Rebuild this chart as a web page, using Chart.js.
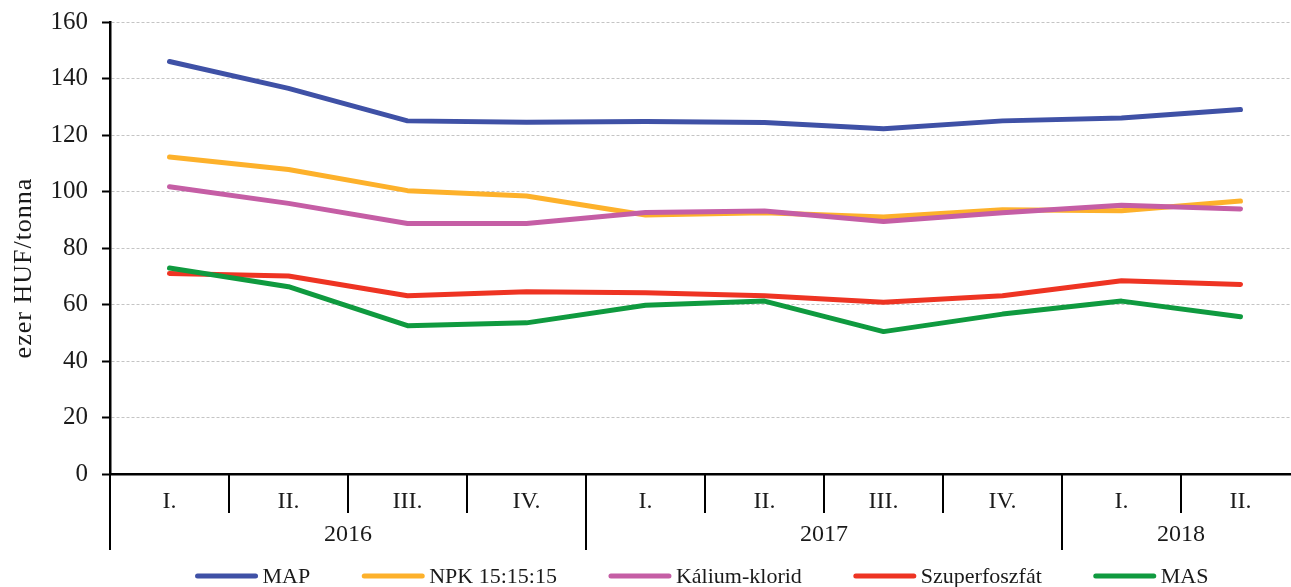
<!DOCTYPE html>
<html>
<head>
<meta charset="utf-8">
<script src="https://cdn.jsdelivr.net/npm/chart.js@4.4.0/dist/chart.umd.min.js"></script>
<style>
  html, body { margin: 0; padding: 0; background: #fff; overflow: hidden; }
  #wrap { width: 1312px; height: 587px; }
</style>
</head>
<body>
<div id="wrap"><canvas id="myChart"></canvas></div>
<script>
// quarters and the years they belong to
const quarters = ['I.', 'II.', 'III.', 'IV.', 'I.', 'II.', 'III.', 'IV.', 'I.', 'II.'];
const years = ['2016', '2017', '2018'];
const quartersPerYear = [4, 4, 2];
const y_title = 'ezer HUF/tonna';

// prices, ezer HUF/tonna
const map_values = [146, 136.5, 125, 124.5, 124.8, 124.4, 122.2, 125, 126, 129];
const npk_values = [112.2, 107.8, 100.3, 98.4, 91.7, 92.5, 91, 93.5, 93.2, 96.6];
const kcl_values = [101.7, 95.8, 88.7, 88.7, 92.6, 93.1, 89.4, 92.5, 95.1, 93.8];
const szuper_values = [71, 70.1, 63.1, 64.5, 64.2, 63.1, 60.8, 63.1, 68.4, 67.1];
const mas_values = [72.9, 66.3, 52.5, 53.5, 59.7, 61.2, 50.4, 56.6, 61.2, 55.7];

const series_names = ['MAP', 'NPK 15:15:15', 'Kálium-klorid', 'Szuperfoszfát', 'MAS'];
const series_values = [map_values, npk_values, kcl_values, szuper_values, mas_values];
const series_colors = ['#3f51a6', '#fdb12b', '#c55ea5', '#ee3423', '#0f9a3f'];

const FONT = 'Liberation Serif';
const TEXT = '#1a1a1a';

const datasets = [];
for (let i = 0; i < series_names.length; i++) {
  datasets.push({
    label: series_names[i],
    data: series_values[i],
    borderColor: series_colors[i],
    backgroundColor: series_colors[i],
    borderWidth: 5,
    borderCapStyle: 'round',
    borderJoinStyle: 'round',
    pointRadius: 0,
    tension: 0,
    order: series_names.length - i
  });
}

// year row + separators under the quarter labels, and the y title
const groupAxis = {
  id: 'groupAxis',
  afterDraw(chart) {
    const ctx = chart.ctx;
    const x = chart.scales.x;
    const area = chart.chartArea;
    const bottom = area.bottom;
    const half = (x.getPixelForValue(1) - x.getPixelForValue(0)) / 2;

    ctx.save();
    ctx.strokeStyle = '#000';
    ctx.lineWidth = 2;

    const yearStarts = [];
    let idx = 0;
    for (let k = 0; k < quartersPerYear.length; k++) {
      yearStarts.push(idx);
      idx += quartersPerYear[k];
    }

    ctx.beginPath();
    ctx.moveTo(area.left, bottom);
    ctx.lineTo(area.left, bottom + 76);
    for (let i = 1; i < quarters.length; i++) {
      const bx = Math.round((x.getPixelForValue(i - 1) + x.getPixelForValue(i)) / 2);
      const len = yearStarts.includes(i) ? 76 : 39;
      ctx.moveTo(bx, bottom);
      ctx.lineTo(bx, bottom + len);
    }
    ctx.stroke();

    ctx.fillStyle = TEXT;
    ctx.font = '24px "' + FONT + '"';
    ctx.textAlign = 'center';
    ctx.textBaseline = 'middle';
    for (let k = 0; k < years.length; k++) {
      const s = yearStarts[k];
      const e = s + quartersPerYear[k] - 1;
      const cx = (x.getPixelForValue(s) - half + x.getPixelForValue(e) + half) / 2;
      ctx.fillText(years[k], cx, bottom + 61);
    }

    // y axis title, sits a bit below the plot middle like the original
    ctx.font = '26px "' + FONT + '"';
    ctx.letterSpacing = '1px';
    ctx.translate(24, (area.top + area.bottom) / 2 + 20);
    ctx.rotate(-Math.PI / 2);
    ctx.fillText(y_title, 0, 0);
    ctx.restore();
  }
};

// legend with line samples, centered under the plot
const lineLegend = {
  id: 'lineLegend',
  afterDraw(chart) {
    const ctx = chart.ctx;
    const area = chart.chartArea;
    const sets = chart.data.datasets;
    const lineW = 62, gap = 5, between = 52;
    ctx.save();
    ctx.font = '22px "' + FONT + '"';
    ctx.textBaseline = 'middle';
    ctx.textAlign = 'left';
    let total = 0;
    const widths = sets.map(d => ctx.measureText(d.label).width);
    for (let i = 0; i < sets.length; i++) {
      total += lineW + gap + widths[i];
      if (i < sets.length - 1) total += between;
    }
    let cx = (area.left + area.right) / 2 - total / 2 - 3;
    const y = 576;
    for (let i = 0; i < sets.length; i++) {
      ctx.strokeStyle = sets[i].borderColor;
      ctx.lineWidth = 5;
      ctx.lineCap = 'round';
      ctx.beginPath();
      ctx.moveTo(cx + 2, y);
      ctx.lineTo(cx + lineW - 2, y);
      ctx.stroke();
      ctx.fillStyle = TEXT;
      ctx.fillText(sets[i].label, cx + lineW + gap, y + 1);
      cx += lineW + gap + widths[i] + between;
    }
    ctx.restore();
  }
};

const ctx = document.getElementById('myChart').getContext('2d');
const myChart = new Chart(ctx, {
  type: 'line',
  data: {
    labels: quarters,
    datasets: datasets
  },
  options: {
    responsive: true,
    maintainAspectRatio: false,
    animation: false,
    layout: {
      padding: { top: 22, right: 12, bottom: 37, left: 0 }
    },
    plugins: {
      legend: { display: false },
      tooltip: { enabled: false }
    },
    scales: {
      x: {
        type: 'category',
        offset: true,
        afterFit(scale) { scale.height = 76; },
        grid: { display: false, offset: true },
        border: { display: true, color: '#000', width: 2.5 },
        ticks: {
          font: { family: FONT, size: 24 },
          color: TEXT,
          padding: 5,
          maxRotation: 0,
          autoSkip: false
        }
      },
      y: {
        min: 0,
        max: 160,
        afterFit(scale) {
          scale.width = 110;
          scale.paddingTop = 0;
          scale.paddingBottom = 0;
        },
        grid: {
          color: '#c4c4c4',
          lineWidth: 1,
          drawTicks: true,
          tickLength: 8,
          tickColor: '#000',
          tickWidth: 2
        },
        border: { display: true, color: '#000', width: 2.5, dash: [3, 2] },
        ticks: {
          stepSize: 20,
          font: { family: FONT, size: 25 },
          color: TEXT,
          padding: 14
        }
      }
    }
  },
  plugins: [groupAxis, lineLegend]
});
</script>
</body>
</html>
